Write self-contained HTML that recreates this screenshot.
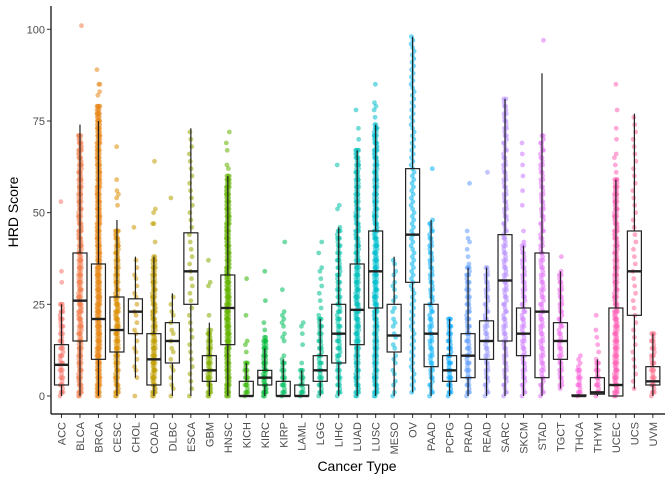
<!DOCTYPE html>
<html><head><meta charset="utf-8"><style>
body{margin:0;background:#fff;}
svg{display:block;font-family:"Liberation Sans",sans-serif;}
</style></head><body>
<svg id="chart" width="672" height="480">
<g id="points"></g>
<g id="boxes"></g>
<g id="axes"></g>
<text x="357" y="471" font-size="14" text-anchor="middle" fill="#000">Cancer Type</text>
<text transform="translate(18,212) rotate(-90)" font-size="14" text-anchor="middle" fill="#000">HRD Score</text>
</svg>
<script>
const categories=["ACC","BLCA","BRCA","CESC","CHOL","COAD","DLBC","ESCA","GBM","HNSC","KICH","KIRC","KIRP","LAML","LGG","LIHC","LUAD","LUSC","MESO","OV","PAAD","PCPG","PRAD","READ","SARC","SKCM","STAD","TGCT","THCA","THYM","UCEC","UCS","UVM"];
const whiskerLo=[0,0,0,0,5,0,0,0,0,0,0,0,0,0,0,0,0,0,0,1,0,0,0,0,0,0,0,2,0,0,0,2,0];
const q1=[3,15,10,12,17,3,9,25,4,14,0,3,0,0,4,9,14,24,12,31,8,4,5,10,15,11,5,10,0,0.5,0,22,3];
const median=[8.5,26,21,18,23,10,15,34,7,24,0,5,0,0,7,17,23.5,34,16.5,44,17,7,11,15,31.5,17,23,15,0,1,3,34,4];
const q3=[14,39,36,27,26.5,17,20,44.5,11,33,4,7,4,3,11,25,36,45,25,62,25,11,17,20.5,44,24,39,20,0.3,5,24,45,8];
const whiskerHi=[25,74,75,48,38,38,28,73,20,60,9,13,10,7,21,46,67,74,38,98,48,21,35,35,81,41,88,34,0.5,10,59,77,17];
const denseHi=[25,71,79,45,38,38,28,73,18,60,9,16,10,7,21,46,67,74,38,98,48,21,35,35,81,41,71,34,7,10,59,77,17];
const perUnit=[2,3,4,3,0.6,3,0.6,0.5,3,4,2,3,2,2,2,2,3,3,0.7,1,1.5,2,2,1.5,1.5,1.5,1.5,1.5,2,2,3,0.5,2];
const outliers=[[31,34,53],[101],[82,83,85,85,89],[52,54,55,56,59,68],[0,46],[42,47,47,50,51,64],[54],[],[22,30,31,37],[62,63,67,69,72],[12,14,15,22,32],[18,20,26,34],[11,15,16,17,19,20,21,22,23,29,42],[9,14,17,19,20],[22,24,26,28,30,32,34,35,39,42],[51,52,63],[70,73,78],[76,78,79,80,85],[],[],[62],[],[36,38,40,42,43,45,58],[61],[],[42,45,52,56,60,63,66,69],[97],[38],[8,9,10,11],[12,14,16,18,22],[61,63,65,66,70,73,78,85],[],[]];
const yTicks=[0,25,50,75,100];

const NS="http://www.w3.org/2000/svg";
const X0=61.5,DX=18.48,Y0=396,KY=3.667;
const xs=i=>X0+i*DX, ys=v=>Y0-v*KY;
function mk(tag,attrs,parent){const e=document.createElementNS(NS,tag);for(const k in attrs)e.setAttribute(k,attrs[k]);parent.appendChild(e);return e;}
function hcl(h,c,l){const hr=h*Math.PI/180,L=l,u0=c*Math.cos(hr),v0=c*Math.sin(hr);
 const Xn=95.047,Yn=100,Zn=108.883,un=4*Xn/(Xn+15*Yn+3*Zn),vn=9*Yn/(Xn+15*Yn+3*Zn);
 const Y=L>8?Yn*Math.pow((L+16)/116,3):Yn*L/903.3;const u=u0/(13*L)+un,v=v0/(13*L)+vn;
 const X=9*Y*u/(4*v),Z=-X/3-5*Y+3*Y/v;
 const r=(3.2406*X-1.5372*Y-0.4986*Z)/100,g=(-0.9689*X+1.8758*Y+0.0415*Z)/100,b=(0.0557*X-0.2040*Y+1.0570*Z)/100;
 const f=t=>{t=t>0.0031308?1.055*Math.pow(t,1/2.4)-0.055:12.92*t;return Math.round(Math.max(0,Math.min(1,t))*255);};
 return `rgb(${f(r)},${f(g)},${f(b)})`;}
const n=categories.length;
const pts=document.getElementById('points'),bx=document.getElementById('boxes'),ax=document.getElementById('axes');
categories.forEach((c,i)=>{
 const col=hcl(15+360*i/n,100,65);const x=xs(i);
 const g=mk('g',{},pts);
 
 
 const vals=[];
 const pu=perUnit[i];
 if(pu>=1){for(let v=Math.floor(whiskerLo[i]);v<=denseHi[i];v++)for(let k=0;k<Math.round(pu*((v%2)+1)/1.5);k++)vals.push(v);}
 else{for(let v=Math.floor(whiskerLo[i]);v<=denseHi[i];v+=1/pu)vals.push(Math.round(v));}
 outliers[i].forEach(v=>vals.push(v));
 vals.forEach((v,j)=>{const jit=(((j*37+v*13)%11)-5)*0.3;
  mk('circle',{cx:x+jit,cy:ys(v),r:2.4,fill:col,'fill-opacity':0.55},g);});
 const b=mk('g',{},bx);
 
 
 mk('line',{x1:x,x2:x,y1:ys(whiskerLo[i]),y2:ys(q1[i]),stroke:'#222','stroke-width':1.2},b);
 mk('line',{x1:x,x2:x,y1:ys(q3[i]),y2:ys(whiskerHi[i]),stroke:'#222','stroke-width':1.2},b);
 mk('rect',{x:x-7,y:ys(q3[i]),width:14,height:Math.max(0.5,ys(q1[i])-ys(q3[i])),fill:'none',stroke:'#222','stroke-width':1.2},b);
 mk('line',{x1:x-7,x2:x+7,y1:ys(median[i]),y2:ys(median[i]),stroke:'#222','stroke-width':2.4},b);
 mk('line',{x1:x,x2:x,y1:414,y2:418,stroke:'#333','stroke-width':1},ax);
 const t=mk('text',{transform:`translate(${x+4},422) rotate(-90)`,'font-size':11,fill:'#4d4d4d','text-anchor':'end'},ax);
 t.textContent=c;
 
 
});
mk('line',{x1:51,x2:51,y1:6,y2:414,stroke:'#000','stroke-width':1.2},ax);
mk('line',{x1:51,x2:665,y1:414,y2:414,stroke:'#000','stroke-width':1.2},ax);
yTicks.forEach(v=>{
 mk('line',{x1:47,x2:51,y1:ys(v),y2:ys(v),stroke:'#333','stroke-width':1},ax);
 const t=mk('text',{x:45,y:ys(v)+4,'font-size':11,fill:'#4d4d4d','text-anchor':'end'},ax);
 t.textContent=v;
 
 
});
</script>
</body></html>
